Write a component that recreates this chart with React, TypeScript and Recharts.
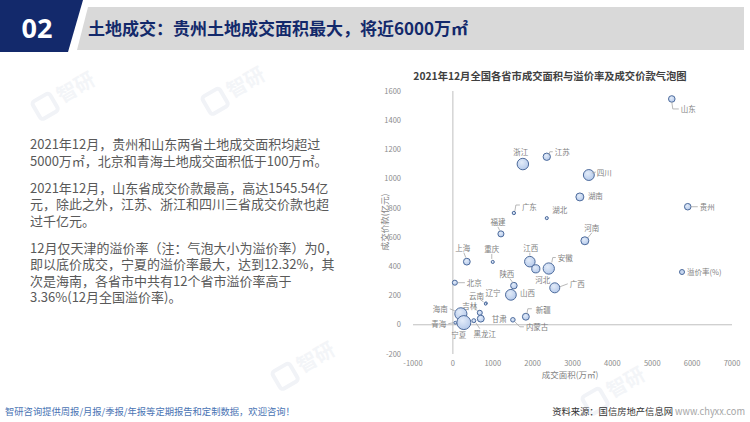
import React from "react";
import {
  ScatterChart,
  Scatter,
  XAxis,
  YAxis,
  ZAxis,
  ReferenceLine,
} from "recharts";

// 2021年12月 各省市 数据
const provinces = [
  "山东", "浙江", "江苏", "四川", "湖南", "广东", "湖北", "贵州", "福建", "河南",
  "上海", "重庆", "江西", "河北", "安徽", "北京", "陕西", "广西", "山西", "辽宁",
  "云南", "吉林", "海南", "宁夏", "青海", "黑龙江", "甘肃", "新疆", "内蒙古",
];
// 成交面积(万㎡)
const areas = [
  5490, 1755, 2355, 3410, 3185, 1530, 2355, 5890, 1205, 3310,
  350, 1000, 1930, 2080, 2405, 50, 1530, 2555, 1455, 830,
  820, 675, 200, 275, 60, 525, 700, 1830, 1505,
];
// 成交价款(亿元)
const amounts = [
  1545.54, 1100, 1150, 1025, 875, 765, 730, 808, 622, 575,
  432, 430, 432, 383, 385, 288, 268, 253, 205, 147,
  143, 82, 75, 15, 14, 28, 42, 55, 34,
];
// 溢价率(%)
const premiums = [
  2.7, 8.3, 3.4, 7.5, 4.0, 0.7, 0.6, 2.7, 2.3, 4.0,
  2.9, 0.6, 7.0, 4.2, 8.0, 1.6, 2.7, 6.3, 7.3, 0.5,
  0.4, 1.6, 9.3, 12.32, 0.5, 1.0, 3.0, 3.0, 1.3,
];

const xTicks = [-1000, 0, 1000, 2000, 3000, 4000, 5000, 6000, 7000];
const yTicks = [-200, 0, 200, 400, 600, 800, 1000, 1200, 1400, 1600];

const points = provinces.map((name, i) => ({
  name,
  x: areas[i],
  y: amounts[i],
  z: premiums[i],
}));

// label placement relative to bubble centre
type LabelPos = { dx: number; dy: number; anchor?: "start" | "middle" | "end"; lead?: number[][] };
const labelPos: Record<string, LabelPos> = {
  山东: { dx: 9, dy: 10, anchor: "start", lead: [[0, 3], [1, 10], [7, 10]] },
  浙江: { dx: -2, dy: -13, anchor: "middle" },
  江苏: { dx: 8, dy: -5, anchor: "start", lead: [[2, -2], [3, -5], [6, -5]] },
  四川: { dx: 8, dy: -3, anchor: "start", lead: [[3, -2], [7, -3]] },
  湖南: { dx: 8, dy: -1, anchor: "start" },
  广东: { dx: 8, dy: -7, anchor: "start", lead: [[1, -2], [2, -8], [6, -8]] },
  湖北: { dx: 13, dy: -9, anchor: "middle" },
  贵州: { dx: 12, dy: 0, anchor: "start", lead: [[3, 0], [10, 0]] },
  福建: { dx: -3, dy: -12, anchor: "middle", lead: [[-1, -3], [-3, -7]] },
  河南: { dx: 7, dy: -13, anchor: "middle", lead: [[3, -3], [7, -8]] },
  上海: { dx: -4, dy: -14, anchor: "middle", lead: [[-1, -4], [-3, -9]] },
  重庆: { dx: -1, dy: -13, anchor: "middle", lead: [[-1, -3], [-1, -8]] },
  江西: { dx: 1, dy: -14, anchor: "middle", lead: [[0, -6], [0, -9]] },
  河北: { dx: 7, dy: 11, anchor: "middle" },
  安徽: { dx: 9, dy: -11, anchor: "start", lead: [[3, -6], [4, -11], [7, -11]] },
  北京: { dx: 12, dy: 0, anchor: "start", lead: [[3, 0], [10, 0]] },
  陕西: { dx: -7, dy: -12, anchor: "middle", lead: [[-1, -3], [-4, -7]] },
  广西: { dx: 15, dy: -4, anchor: "start", lead: [[5, -1], [13, -4]] },
  山西: { dx: 9, dy: -2, anchor: "start" },
  辽宁: { dx: 7, dy: -11, anchor: "middle" },
  云南: { dx: -9, dy: -8, anchor: "middle", lead: [[-2, -2], [-5, -4]] },
  吉林: { dx: -10, dy: -7, anchor: "middle", lead: [[-2, -2], [-5, -4]] },
  海南: { dx: -13, dy: -5, anchor: "end", lead: [[-6, -3], [-11, -5]] },
  宁夏: { dx: -5, dy: 12, anchor: "middle" },
  青海: { dx: -9, dy: 1, anchor: "end", lead: [[-2, 0], [-7, 1]] },
  黑龙江: { dx: 11, dy: 13, anchor: "middle", lead: [[2, 2], [6, 8]] },
  甘肃: { dx: 11, dy: 0, anchor: "start" },
  新疆: { dx: 10, dy: -7, anchor: "start", lead: [[1, -3], [2, -8], [6, -8]] },
  内蒙古: { dx: 13, dy: 7, anchor: "start", lead: [[2, 2], [7, 7], [11, 7]] },
};

const CJK = '"Noto Sans CJK SC", "Noto Sans", sans-serif';

function Bubble(props: any) {
  const { cx, cy, payload } = props;
  const size = props.size ?? 0;
  const r = Math.max(Math.sqrt(size / Math.PI), 1.2);
  const lp = labelPos[payload.name];
  return (
    <g>
      <circle cx={cx} cy={cy} r={r} fill="url(#bubbleFill)" stroke="#4d6b9c" strokeWidth={1} />
      {lp && lp.lead && (
        <polyline
          points={lp.lead.map((p) => `${cx + p[0]},${cy + p[1]}`).join(" ")}
          fill="none"
          stroke="#a6a6a6"
          strokeWidth={0.8}
        />
      )}
      {lp && (
        <text
          x={cx + lp.dx}
          y={cy + lp.dy}
          textAnchor={lp.anchor || "start"}
          dominantBaseline="central"
          fontSize={7.5}
          fill="#7f7f7f"
          fontFamily={CJK}
        >
          {payload.name}
        </text>
      )}
    </g>
  );
}

const paragraphs = [
  ["2021年12月，贵州和山东两省土地成交面积均超过", "5000万㎡，北京和青海土地成交面积低于100万㎡。"],
  ["2021年12月，山东省成交价款最高，高达1545.54亿", "元，除此之外，江苏、浙江和四川三省成交价款也超", "过千亿元。"],
  [
    "12月仅天津的溢价率（注：气泡大小为溢价率）为0，",
    "即以底价成交，宁夏的溢价率最大，达到12.32%，其",
    "次是海南，各省市中共有12个省市溢价率高于",
    "3.36%(12月全国溢价率)。",
  ],
];

const watermarks = [
  [60, 100], [300, 370], [610, 395], [230, 95],
];

export default function App() {
  return (
    <div
      style={{
        position: "absolute",
        left: 0,
        top: 0,
        width: 750,
        height: 422,
        background: "#fff",
        overflow: "hidden",
        fontFamily: CJK,
      }}
    >
      {/* faint watermark */}
      <svg width={750} height={422} style={{ position: "absolute", left: 0, top: 0 }}>
        {watermarks.map(([x, y], i) => (
          <g key={i} transform={`translate(${x},${y}) rotate(-30)`}>
            <rect x={-26} y={-12} width={20} height={20} rx={3} fill="none" stroke="#f1f3f7" strokeWidth={4} />
            <text x={0} y={4} fontSize={20} fontWeight={700} fill="#f3f5f8" fontFamily={CJK}>
              智研
            </text>
          </g>
        ))}
      </svg>

      {/* header */}
      <svg width={750} height={56} style={{ position: "absolute", left: 0, top: 0 }}>
        <polygon points="0,0 83,0 68,52 0,52" fill="#13296b" />
        <polygon points="88,7 744,7 744,50 77,50" fill="#d9d9d9" />
      </svg>
      <div
        style={{
          position: "absolute",
          left: 0,
          width: 74,
          top: 12,
          textAlign: "center",
          color: "#fff",
          fontSize: 27,
          fontWeight: 700,
          lineHeight: "32px",
          fontFamily: '"Open Sans", "Noto Sans", sans-serif',
        }}
      >
        02
      </div>
      <div
        style={{
          position: "absolute",
          left: 88,
          top: 17,
          color: "#13296b",
          fontSize: 17,
          fontWeight: 700,
          lineHeight: "22px",
          whiteSpace: "nowrap",
        }}
      >
        土地成交：贵州土地成交面积最大，将近6000万㎡
      </div>

      {/* left text */}
      <div style={{ position: "absolute", left: 30, top: 136, color: "#595959", fontSize: 13, lineHeight: "16.5px" }}>
        {paragraphs.map((lines, i) => (
          <div key={i} style={{ marginBottom: 10.5 }}>
            {lines.map((l, j) => (
              <div key={j} style={{ whiteSpace: "nowrap" }}>
                {l}
              </div>
            ))}
          </div>
        ))}
      </div>

      {/* chart title */}
      <div
        style={{
          position: "absolute",
          left: 370,
          width: 360,
          top: 68,
          textAlign: "center",
          fontSize: 10.3,
          fontWeight: 700,
          color: "#404040",
          whiteSpace: "nowrap",
        }}
      >
        2021年12月全国各省市成交面积与溢价率及成交价款气泡图
      </div>

      {/* chart */}
      <div style={{ position: "absolute", left: 370, top: 60 }}>
        <ScatterChart width={380} height={330} margin={{ top: 31, right: 18, bottom: 0, left: 0 }}>
          <defs>
            <radialGradient id="bubbleFill" cx="40%" cy="35%" r="70%">
              <stop offset="0%" stopColor="#e3ecf9" />
              <stop offset="100%" stopColor="#b3c8ea" />
            </radialGradient>
          </defs>
          <XAxis
            type="number"
            dataKey="x"
            domain={[-1000, 7000]}
            ticks={xTicks}
            axisLine={false}
            tickLine={false}
            height={36}
            tickMargin={1}
            tick={{ fontSize: 7.5, fill: "#8c8c8c", fontFamily: CJK }}
          />
          <YAxis
            type="number"
            dataKey="y"
            domain={[-200, 1600]}
            ticks={yTicks}
            axisLine={false}
            tickLine={false}
            width={43}
            tickMargin={6}
            tick={{ fontSize: 7.5, fill: "#8c8c8c", fontFamily: CJK }}
          />
          <ZAxis type="number" dataKey="z" domain={[0, 12.32]} range={[0, Math.PI * 49]} />
          <ReferenceLine x={0} stroke="#bfbfbf" strokeWidth={1} />
          <ReferenceLine y={0} stroke="#bfbfbf" strokeWidth={1} />
          <Scatter name="溢价率(%)" data={points} shape={<Bubble />} isAnimationActive={false} />
        </ScatterChart>
      </div>

      {/* legend */}
      <div
        style={{
          position: "absolute",
          left: 678,
          top: 266,
          display: "flex",
          alignItems: "center",
          fontSize: 7.5,
          color: "#7f7f7f",
          whiteSpace: "nowrap",
        }}
      >
        <svg width={8} height={10}>
          <circle cx={4} cy={5} r={2.5} fill="#c7d7f0" stroke="#4d6b9c" strokeWidth={1} />
        </svg>
        <span style={{ marginLeft: 1 }}>溢价率(%)</span>
      </div>

      {/* axis titles */}
      <div
        style={{
          position: "absolute",
          left: 520,
          width: 100,
          top: 368,
          textAlign: "center",
          fontSize: 8.5,
          color: "#7f7f7f",
          whiteSpace: "nowrap",
        }}
      >
        成交面积(万㎡)
      </div>
      <div
        style={{
          position: "absolute",
          left: 384,
          top: 222,
          transform: "translate(-50%, -50%) rotate(-90deg)",
          fontSize: 8.5,
          color: "#7f7f7f",
          whiteSpace: "nowrap",
        }}
      >
        成交价款(亿元)
      </div>

      {/* footer */}
      <div
        style={{
          position: "absolute",
          left: 5,
          top: 404,
          fontSize: 9.3,
          color: "#4a74b4",
          whiteSpace: "nowrap",
        }}
      >
        智研咨询提供周报/月报/季报/年报等定期报告和定制数据，欢迎咨询！
      </div>
      <div
        style={{
          position: "absolute",
          right: 5,
          top: 404,
          fontSize: 9.3,
          whiteSpace: "nowrap",
        }}
      >
        <span style={{ color: "#333" }}>资料来源：国信房地产信息网 </span>
        <span style={{ color: "#a6a6a6" }}>www.chyxx.com</span>
      </div>
    </div>
  );
}
